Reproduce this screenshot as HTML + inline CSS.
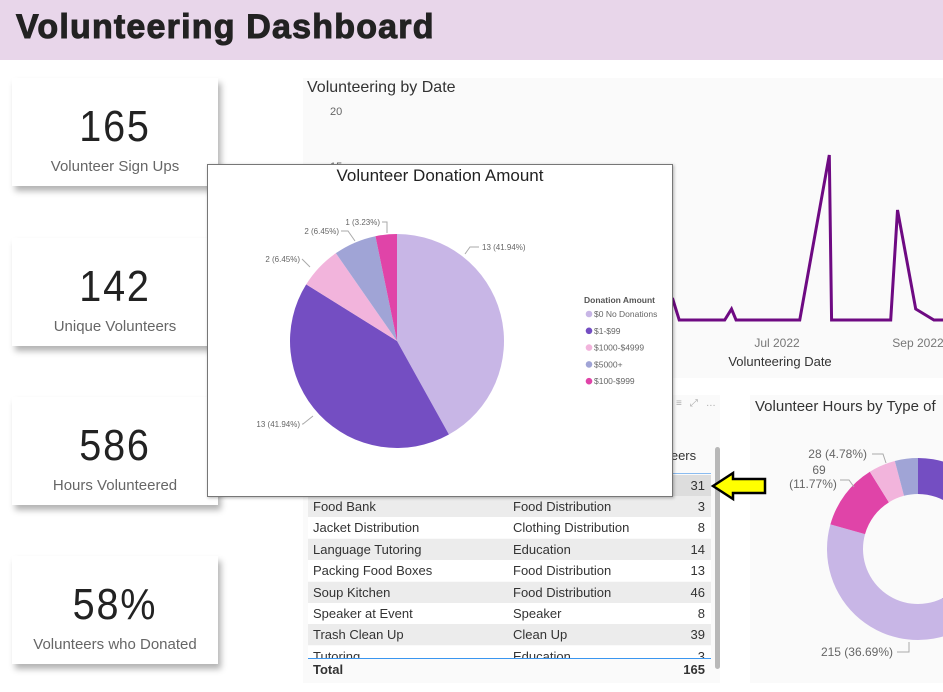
<!DOCTYPE html>
<html><head><meta charset="utf-8"><style>
*{margin:0;padding:0;box-sizing:border-box}
body{width:943px;height:692px;overflow:hidden;background:#fff;font-family:"Liberation Sans",sans-serif;position:relative}
.abs{position:absolute}
.card{position:absolute;left:12px;width:206px;height:108px;background:#fff;box-shadow:3px 5px 6px rgba(0,0,0,.3)}
.card .num{position:absolute;left:0;right:0;top:24px;text-align:center;font-size:44px;color:#222;letter-spacing:2px;transform:scaleX(.9)}
.card .lbl{position:absolute;left:0;right:0;top:80px;text-align:center;font-size:15px;color:#666}
.row{position:absolute;left:308px;width:403px;height:21px;font-size:13px;color:#333;line-height:21px}
.row span{position:absolute}
.c1{left:5px}.c2{left:205px}.c3{right:6px}
</style></head><body>
<div class="abs" style="left:0;top:0;width:943px;height:60px;background:#e8d6ea"></div>
<div class="abs" style="left:16px;top:8px;font-size:34px;font-weight:bold;color:#222;letter-spacing:1.2px;-webkit-text-stroke:1px #222">Volunteering Dashboard</div>

<div class="card" style="top:78px"><div class="num">165</div><div class="lbl">Volunteer Sign Ups</div></div>
<div class="card" style="top:238px"><div class="num">142</div><div class="lbl">Unique Volunteers</div></div>
<div class="card" style="top:397px"><div class="num">586</div><div class="lbl">Hours Volunteered</div></div>
<div class="card" style="top:556px"><div class="num">58%</div><div class="lbl">Volunteers who Donated</div></div>

<div class="abs" style="left:303px;top:78px;width:640px;height:300px;background:#fafafa"></div>
<div class="abs" style="left:307px;top:79px;font-size:16px;color:#333">Volunteering by Date</div>
<svg class="abs" id="line" style="left:0;top:0" width="943" height="380"></svg>

<div class="abs" style="left:303px;top:395px;width:417px;height:288px;background:#fafafa"></div>
<div class="abs" style="left:676px;top:398px;font-size:10px;color:#aaa;letter-spacing:8px">≡⤢…</div>
<div class="abs" style="left:660px;top:448px;font-size:13px;color:#333">nteers</div>
<div class="abs" style="left:308px;top:473px;width:403px;height:1px;background:#8bbcf0"></div>
<div id="rows"></div>
<div class="abs" style="left:308px;top:658px;width:403px;height:1px;background:#3a96f0"></div>
<div class="row" style="top:659px;font-weight:bold;background:#fafafa"><span class="c1">Total</span><span class="c3">165</span></div>
<div class="abs" style="left:715px;top:447px;width:5px;height:222px;background:#b8b8b8;border-radius:3px"></div>

<div class="abs" style="left:750px;top:395px;width:193px;height:288px;background:#fafafa"></div>
<div class="abs" style="left:755px;top:398px;font-size:15px;color:#333;white-space:nowrap">Volunteer Hours by Type of</div>
<svg class="abs" id="donut" style="left:750px;top:395px" width="193" height="288"></svg>

<svg class="abs" style="left:705px;top:468px" width="70" height="40"><polygon points="8,18 28,5 28,11 60,11 60,25 28,25 28,31" fill="#ffff00" stroke="#000" stroke-width="2.5" stroke-linejoin="miter"/></svg>

<div class="abs" style="left:207px;top:164px;width:466px;height:333px;background:#fff;border:1px solid #777;box-shadow:1px 1px 3px rgba(0,0,0,.3)"></div>
<div class="abs" style="left:207px;top:166px;width:466px;text-align:center;font-size:17px;color:#222">Volunteer Donation Amount</div>
<svg class="abs" id="pie" style="left:207px;top:164px" width="466" height="333"></svg>

<script>
const NS='http://www.w3.org/2000/svg';
// Line chart data (days relative to Jul 1 2022)
const lineDays=[-46,-43,-23,-20,-18,10,23,24,50,53,61,69,73];
const lineValues=[3,1,1,2,1,1,16,1,1,11,2,1,1];
const yTicks=[20,15];
const xTickLabels=['Jul 2022','Sep 2022'];
const xTickDays=[0,62];
function lx(d){return 777+d*2.274}
function ly(v){return 331-11*v}
const line=document.getElementById('line');
function mk(p,tag,attrs,txt){const e=document.createElementNS(NS,tag);for(const k in attrs)e.setAttribute(k,attrs[k]);if(txt!=null)e.textContent=txt;p.appendChild(e);return e}
let pts=lineDays.map((d,i)=>lx(d)+','+ly(lineValues[i])).join(' ');
const pl=mk(line,'polyline',{points:pts,fill:'none',stroke:'#6e0a82','stroke-width':3,'stroke-linejoin':'miter'});


yTicks.forEach(v=>{const t=mk(line,'text',{x:330,y:ly(v)+4,'font-size':11,fill:'#666','font-family':'Liberation Sans'},v);

});
xTickLabels.forEach((l,i)=>{const t=mk(line,'text',{x:lx(xTickDays[i]),y:347,'font-size':12,fill:'#777','text-anchor':'middle','font-family':'Liberation Sans'},l);

});
const xt=mk(line,'text',{x:780,y:366,'font-size':13,fill:'#333','text-anchor':'middle','font-family':'Liberation Sans'},'Volunteering Date');



// Table
const tNames=['Food Bank','Jacket Distribution','Language Tutoring','Packing Food Boxes','Soup Kitchen','Speaker at Event','Trash Clean Up','Tutoring'];
const tTypes=['Food Distribution','Clothing Distribution','Education','Food Distribution','Food Distribution','Speaker','Clean Up','Education'];
const tCounts=[3,8,14,13,46,8,39,3];
const rows=document.getElementById('rows');
let h='<div class="row" style="top:475px;background:#ddd"><span class="c3">31</span></div>';
tNames.forEach((n,i)=>{const top=496+i*21.4;const hh=i==7?12:21;h+=`<div class="row" style="top:${top}px;height:${hh}px;overflow:hidden;background:${i%2==0?'#ececec':'#fff'}"><span class="c1">${n}</span><span class="c2">${tTypes[i]}</span><span class="c3">${tCounts[i]}</span></div>`});
rows.innerHTML=h;

// Pie
const pieLabels=['$0 No Donations','$1-$99','$1000-$4999','$5000+','$100-$999'];
const pieValues=[13,13,2,2,1];
const pieColors=['#c8b6e6','#744ec2','#f2b4dc','#a0a4d6','#e044a8'];
const pie=document.getElementById('pie');
const cx=190,cy=177,r=107;
function arc(svg,cx,cy,ro,ri,a0,a1,col){
const L=a1-a0>Math.PI?1:0;
let d=`M${cx+ro*Math.sin(a0)},${cy-ro*Math.cos(a0)} A${ro},${ro} 0 ${L} 1 ${cx+ro*Math.sin(a1)},${cy-ro*Math.cos(a1)}`;
if(ri>0)d+=` L${cx+ri*Math.sin(a1)},${cy-ri*Math.cos(a1)} A${ri},${ri} 0 ${L} 0 ${cx+ri*Math.sin(a0)},${cy-ri*Math.cos(a0)} Z`;else d+=` L${cx},${cy} Z`;
return mk(svg,'path',{d:d,fill:col})}
let tot=pieValues.reduce((a,b)=>a+b,0),a=0;
pieValues.forEach((v,i)=>{const a1=a+v/tot*Math.PI*2;const s=arc(pie,cx,cy,r,0,a,a1,pieColors[i]);


const lab=v+' ('+(v/tot*100).toFixed(2)+'%)';
let tx,ty,lp,anc;
if(i==0){tx=275;ty=83;lp='258,90 263,83 272,83';anc='start'}
else if(i==1){tx=93;ty=260;lp='106,252 96,260 95,260';anc='end'}
else if(i==2){tx=93;ty=95;lp='103,103 95,95 95,95';anc='end'}
else if(i==3){tx=132;ty=67;lp='148,77 141,67 134,67';anc='end'}
else{tx=173;ty=58;lp='175,58 180,58 180,69';anc='end'}
mk(pie,'polyline',{points:lp,fill:'none',stroke:'#aaa','stroke-width':1});
const t=mk(pie,'text',{x:tx,y:ty+3,'font-size':8,fill:'#666','text-anchor':anc,'font-family':'Liberation Sans'},lab);


a=a1;});
const lt=mk(pie,'text',{x:377,y:139,'font-size':8.5,'font-weight':'bold',fill:'#555','font-family':'Liberation Sans'},'Donation Amount');


pieLabels.forEach((l,i)=>{const y=150+i*16.8;mk(pie,'circle',{cx:382,cy:y,r:3.3,fill:pieColors[i]});
const t=mk(pie,'text',{x:387,y:y+3,'font-size':8.5,fill:'#666','font-family':'Liberation Sans'},l);

});

// Donut
const donutValues=[250,215,69,28,24];
const donutColors=['#744ec2','#c8b6e6','#e044a8','#f2b4dc','#a0a4d6'];
const dn=document.getElementById('donut');
let dt=donutValues.reduce((a,b)=>a+b,0),b=0;
donutValues.forEach((v,i)=>{const b1=b+v/dt*Math.PI*2;const s=arc(dn,168,154,91,55,b,b1,donutColors[i]);

b=b1;});
function dl(x,y,txt,anchor){const t=mk(dn,'text',{x:x,y:y,'font-size':12,fill:'#666','text-anchor':anchor,'font-family':'Liberation Sans'},txt);

}
dl(117,63,'28 ('+(28/586*100).toFixed(2)+'%)','end');
dl(69,79,'69','middle');
dl(63,93,'('+(69/586*100).toFixed(2)+'%)','middle');
dl(143,261,'215 ('+(215/586*100).toFixed(2)+'%)','end');
mk(dn,'polyline',{points:'122,59 133,59 136,68',fill:'none',stroke:'#aaa'});
mk(dn,'polyline',{points:'90,85 99,85 104,92',fill:'none',stroke:'#aaa'});
mk(dn,'polyline',{points:'147,257 159,257 159,247',fill:'none',stroke:'#aaa'});
</script>
</body></html>
